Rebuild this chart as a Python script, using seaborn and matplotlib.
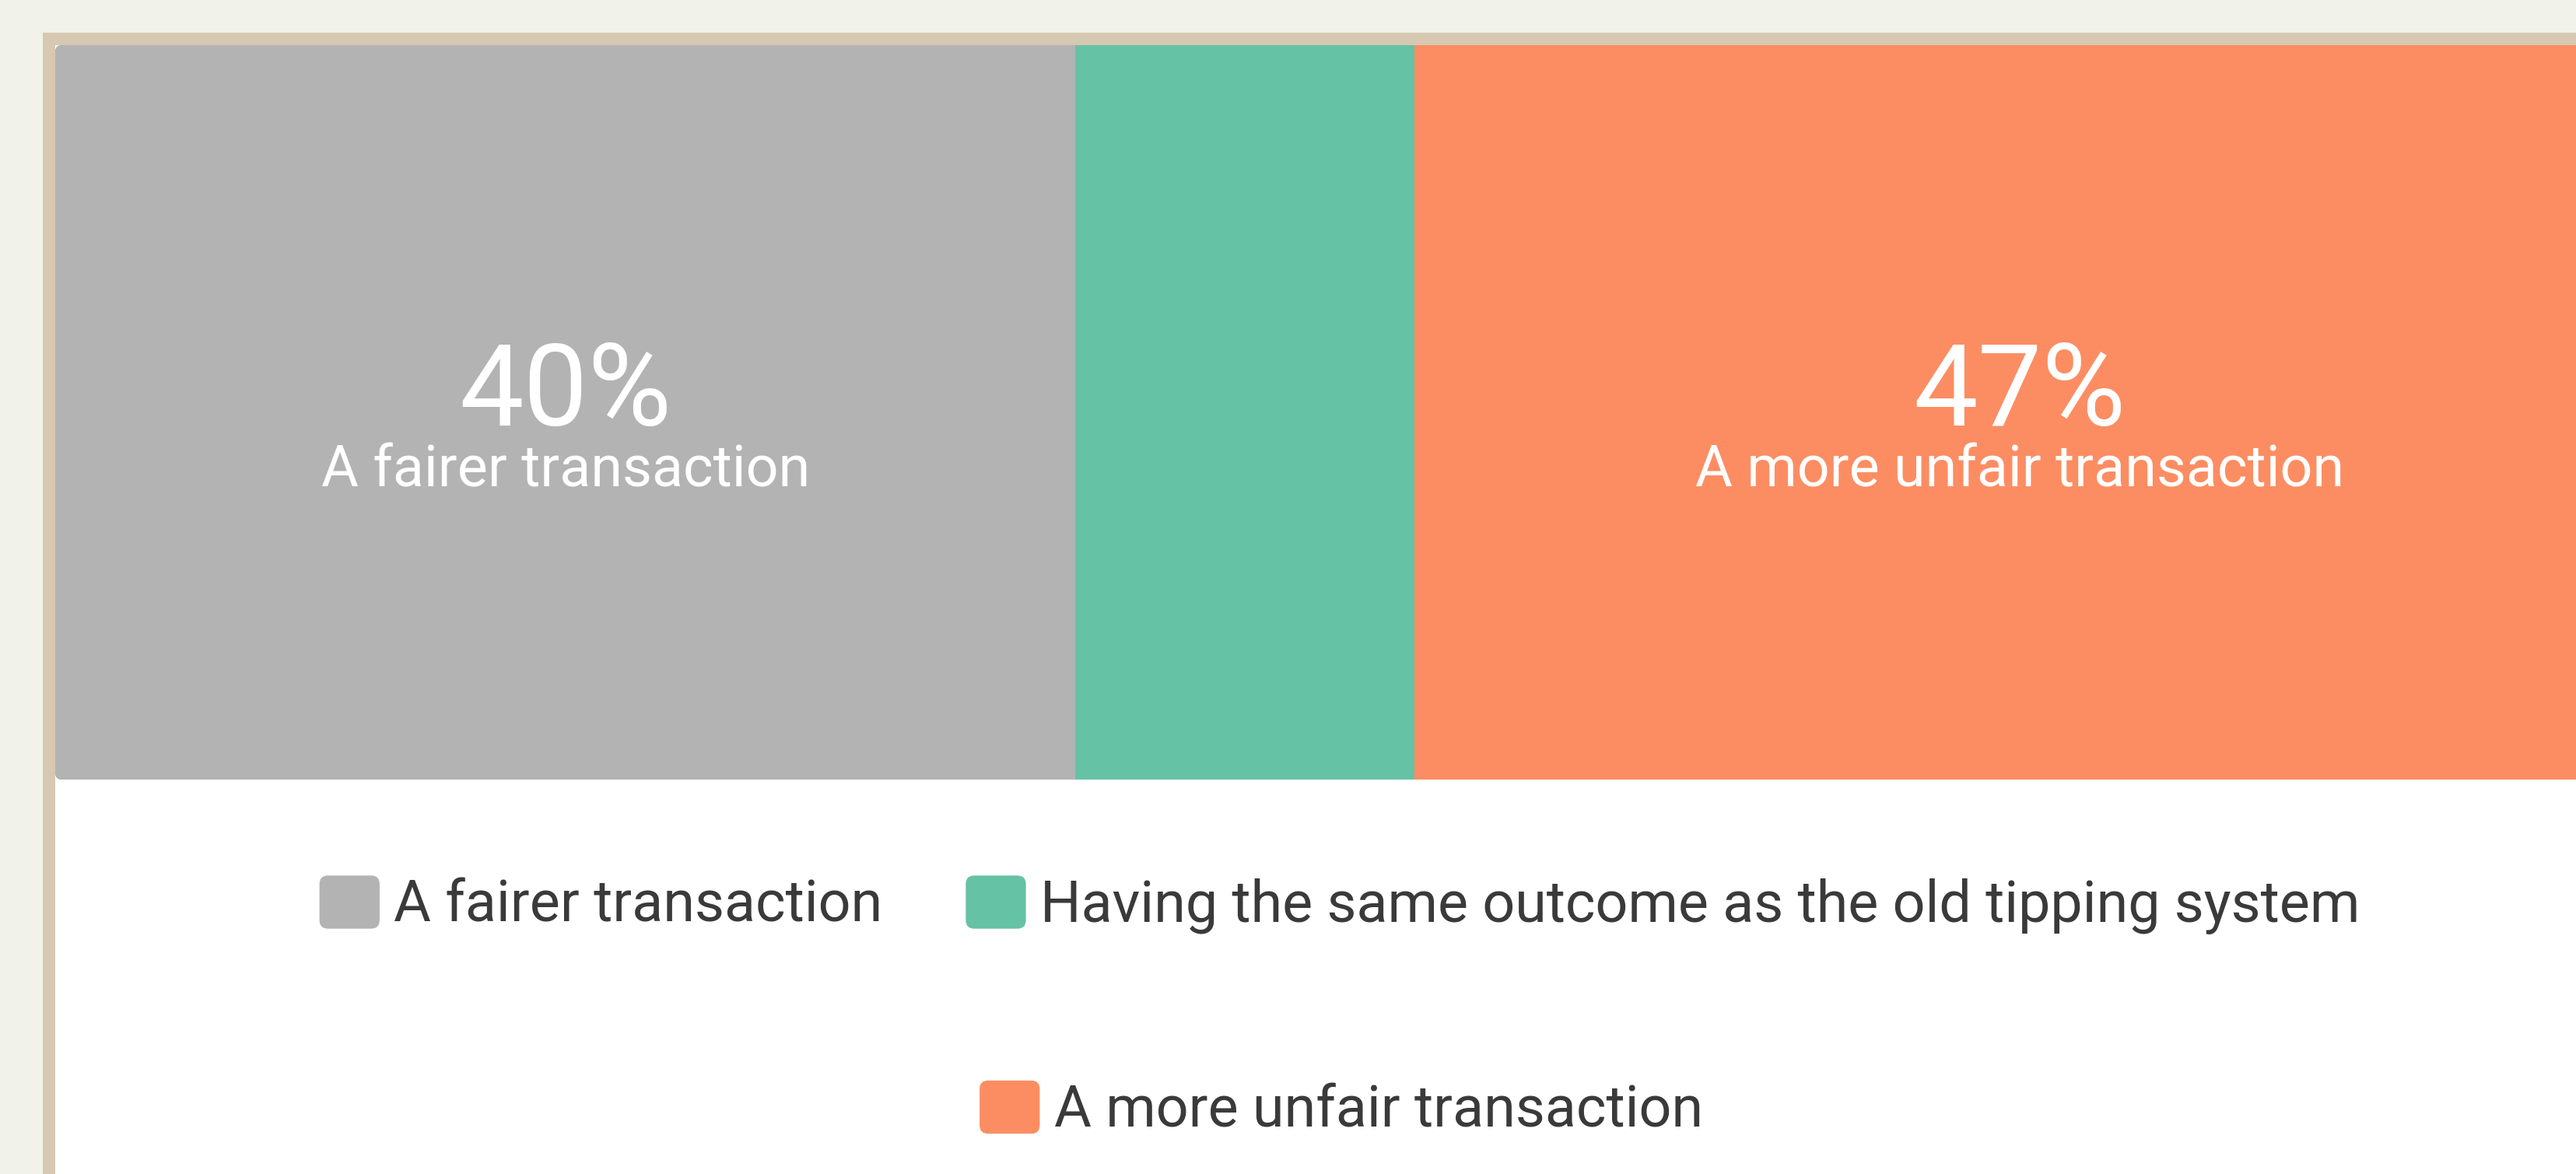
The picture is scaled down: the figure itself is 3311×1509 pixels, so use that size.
import numpy as np
import pandas as pd
import matplotlib
matplotlib.use("Agg")
import matplotlib.pyplot as plt
import seaborn as sns
from matplotlib.patches import Rectangle, FancyBboxPatch, Patch
from matplotlib.legend_handler import HandlerPatch
from matplotlib.transforms import IdentityTransform, blended_transform_factory

# ---- data ----
categories = ["A fairer transaction",
              "Having the same outcome as the old tipping system",
              "A more unfair transaction"]
values = [39.7, 13.2, 47.1]
show_label = [True, False, True]
row_name = ["All"]

# ---- style ----
sns.set_theme(style="white")
plt.rcParams["font.family"] = ["Roboto", "DejaVu Sans"]

W, H, DPI = 3311, 1509, 100
palette = sns.color_palette("Set2")
colors = [palette[7], palette[0], palette[1]]  # gray, green, orange
page_bg = "#F1F2E9"
border_col = "#D6C8B1"

fig = plt.figure(figsize=(W / DPI, H / DPI), dpi=DPI, facecolor=page_bg)

def fx(px):
    return px / W

def fy(py):
    return 1 - py / H

# card border and white card (behind the axes)
fig.patches.append(Rectangle((fx(55), 0), 1.2, fy(42), transform=fig.transFigure,
                             facecolor=border_col, edgecolor="none", zorder=-3))
fig.patches.append(Rectangle((fx(71), 0), 1.2, fy(58), transform=fig.transFigure,
                             facecolor="white", edgecolor="none", zorder=-2))

# axes spanning the bar: left at px 71, right at px 3374 (beyond crop)
bar_left, bar_right, bar_top, bar_bot = 71, 3374, 58, 1002
ax = fig.add_axes([fx(bar_left), fy(bar_bot), fx(bar_right - bar_left),
                   (bar_bot - bar_top) / H])
ax.patch.set_alpha(0)

cum = np.cumsum(values)
df = pd.DataFrame({"row": row_name * len(categories),
                   "category": categories,
                   "cum": cum})
# draw from the widest cumulative bar so the stacked segments overlap correctly
order = categories[::-1]
sns.barplot(data=df, x="cum", y="row", hue="category", hue_order=order,
            palette=dict(zip(categories, colors)), dodge=False, width=1.0,
            legend=False, saturation=1, ax=ax, edgecolor="none", linewidth=0)

ax.set_xlim(0, 100)
ax.set_ylim(0.5, -0.5)
ax.set_axis_off()

# rounded left corners via clip path (in display pixels)
clip = FancyBboxPatch((bar_left, H - bar_bot), (bar_right - bar_left) + 40,
                      bar_bot - bar_top,
                      boxstyle="round,pad=0,rounding_size=9",
                      transform=IdentityTransform(), facecolor="none")
for p in ax.patches:
    p.set_clip_path(clip)

# value labels inside the segments
trans = blended_transform_factory(ax.transData, ax.transAxes)
starts = np.concatenate([[0], cum[:-1]])
for s, v, cat, show in zip(starts, values, categories, show_label):
    if not show:
        continue
    xc = s + v / 2
    ax.text(xc, (bar_bot - 547) / (bar_bot - bar_top), f"{v:.0f}%",
            transform=trans, ha="center", va="baseline", color="white",
            fontsize=106, fontweight="normal")
    ax.text(xc, (bar_bot - 625) / (bar_bot - bar_top), cat,
            transform=trans, ha="center", va="baseline", color="white",
            fontsize=53)

# legend with rounded squares
class RoundHandler(HandlerPatch):
    def create_artists(self, legend, orig_handle, xdescent, ydescent,
                       width, height, fontsize, trans):
        p = FancyBboxPatch((-xdescent, -ydescent), width, height,
                           boxstyle=f"round,pad=0,rounding_size={width*0.14}",
                           facecolor=orig_handle.get_facecolor(),
                           edgecolor="none", transform=trans)
        return [p]

handles = [Patch(facecolor=c, edgecolor="none", label=cat)
           for c, cat in zip(colors, categories)]
leg_kw = dict(frameon=False, fontsize=53, handlelength=1.05, handleheight=1.05,
              handletextpad=0.25, columnspacing=1.45, borderpad=0,
              labelcolor="#3A3A3A", loc="center",
              handler_map={Patch: RoundHandler()})
leg1 = fig.legend(handles=handles[:2], ncol=2,
                  bbox_to_anchor=(fx(1722), fy(1163)), **leg_kw)
leg2 = fig.legend(handles=handles[2:], ncol=1,
                  bbox_to_anchor=(fx(1724), fy(1426)), **leg_kw)

fig.savefig("out.png", dpi=DPI, facecolor=page_bg)
